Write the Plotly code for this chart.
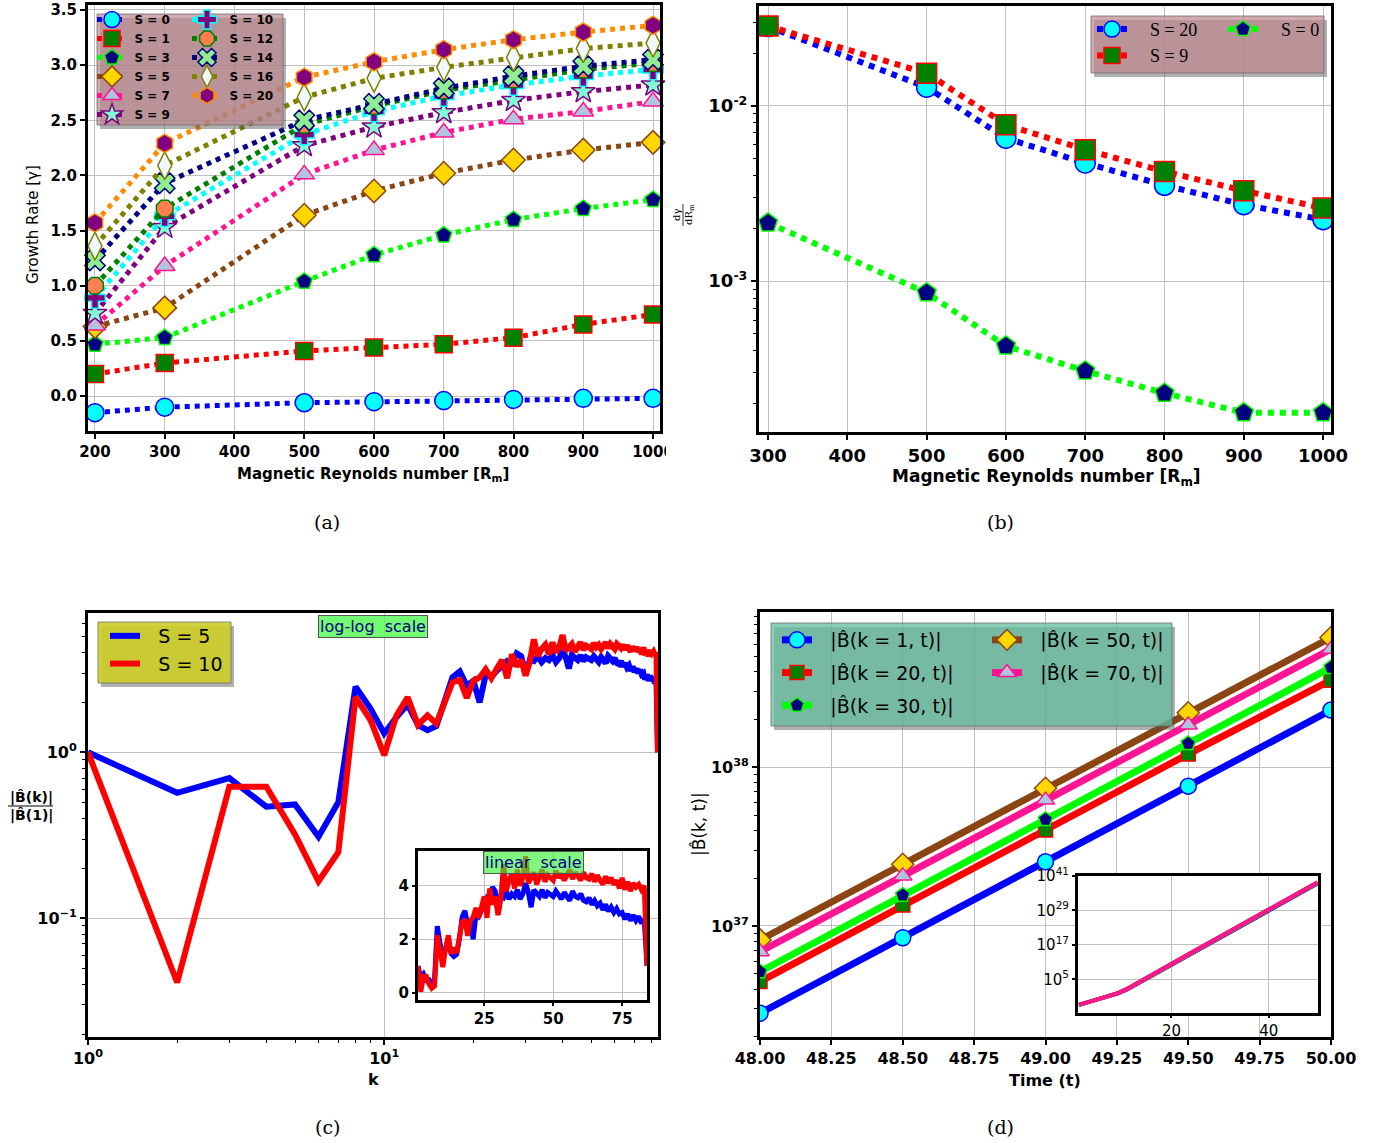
import plotly.graph_objects as go

W, H = 1380, 1143
def X(px): return px / W
def Y(py): return 1 - py / H

# ---------------- (a) growth rate vs Rm ----------------
rm_a = [200, 300, 500, 600, 700, 800, 900, 1000]
gamma_S0 = [-0.15, -0.10, -0.06, -0.05, -0.04, -0.03, -0.02, -0.02]
gamma_S1 = [0.20, 0.30, 0.41, 0.44, 0.47, 0.53, 0.65, 0.74]
gamma_S3 = [0.47, 0.53, 1.04, 1.28, 1.46, 1.60, 1.70, 1.78]
gamma_S5 = [0.63, 0.80, 1.64, 1.86, 2.02, 2.14, 2.23, 2.30]
gamma_S7 = [0.64, 1.18, 2.01, 2.23, 2.39, 2.51, 2.58, 2.67]
gamma_S9 = [0.75, 1.53, 2.27, 2.44, 2.57, 2.68, 2.76, 2.82]
gamma_S10 = [0.89, 1.63, 2.37, 2.58, 2.72, 2.82, 2.90, 2.96]
gamma_S12 = [1.00, 1.70, 2.46, 2.63, 2.77, 2.87, 2.96, 3.02]
gamma_S14 = [1.23, 1.93, 2.50, 2.65, 2.79, 2.90, 2.99, 3.05]
gamma_S16 = [1.36, 2.09, 2.71, 2.88, 2.98, 3.07, 3.15, 3.20]
gamma_S20 = [1.57, 2.29, 2.89, 3.03, 3.14, 3.23, 3.30, 3.36]
ticks_a_x = [200, 300, 400, 500, 600, 700, 800, 900, 1000]
ticks_a_y = [0.0, 0.5, 1.0, 1.5, 2.0, 2.5, 3.0, 3.5]

# ---------------- (b) d gamma / d Rm ----------------
rm_b = [300, 500, 600, 700, 800, 900, 1000]
dgam_S20 = [0.0283, 0.01276, 0.00654, 0.00472, 0.00352, 0.00273, 0.00224]
dgam_S9 = [0.0285, 0.01535, 0.00780, 0.00562, 0.00422, 0.00328, 0.00261]
dgam_S0 = [0.00215, 0.000859, 0.000427, 0.000308, 0.000230, 0.000178, 0.000178]
ticks_b_x = [300, 400, 500, 600, 700, 800, 900, 1000]

# ---------------- (c) normalised spectrum ----------------
k_vals = list(range(1, 85))
bratio_S5 = [1.00, 0.57, 0.70, 0.47, 0.485, 0.31, 0.50, 2.49, 1.83, 1.30,
             1.63, 1.94, 1.46, 1.36, 1.44, 2.00, 2.83, 3.07, 2.52, 2.70,
             2.00, 2.93, 2.85, 3.10, 3.30, 3.55, 3.45, 3.95, 3.80, 2.95,
             3.60, 3.55, 3.80, 3.50, 3.70, 3.60, 3.85, 3.50, 3.70, 4.10,
             3.75, 3.20, 3.85, 3.70, 3.60, 3.85, 3.55, 3.75, 3.70, 3.60,
             3.80, 3.65, 3.50, 3.75, 3.60, 3.45, 3.80, 3.60, 3.55, 3.70,
             3.45, 3.40, 3.55, 3.30, 3.45, 3.25, 3.35, 3.10, 3.30, 3.05,
             3.20, 3.00, 3.15, 2.95, 3.00, 2.75, 2.95, 2.70, 2.90, 2.70,
             2.85, 2.60, 2.75, 1.00]
bratio_S10 = [1.00, 0.041, 0.62, 0.62, 0.32, 0.167, 0.25, 2.15, 1.56, 0.96,
              1.67, 2.15, 1.46, 1.67, 1.49, 1.96, 2.64, 2.73, 2.13, 2.70,
              2.83, 3.17, 2.80, 3.20, 3.60, 2.80, 3.90, 3.30, 3.60, 2.90,
              3.50, 4.80, 3.80, 4.20, 4.45, 3.90, 4.60, 4.00, 4.30, 5.10,
              4.10, 4.30, 4.50, 4.05, 4.35, 4.60, 4.15, 4.40, 4.30, 4.20,
              4.55, 4.30, 4.45, 4.20, 4.40, 4.60, 4.25, 4.50, 4.35, 4.20,
              4.50, 4.30, 4.25, 4.45, 4.15, 4.40, 4.20, 4.05, 4.35, 4.10,
              4.30, 4.05, 4.20, 3.90, 4.30, 3.85, 4.15, 3.80, 4.10, 3.95,
              4.05, 3.85, 4.00, 1.00]

# ---------------- (d) mode growth in time ----------------
t_d = [48.0, 48.5, 49.0, 49.5, 50.0]
B_k1 = [2.82e36, 8.43e36, 2.54e37, 7.62e37, 2.30e38]
B_k20 = [4.46e36, 1.355e37, 4.03e37, 1.213e38, 3.55e38]
B_k30 = [5.15e36, 1.567e37, 4.70e37, 1.416e38, 4.27e38]
B_k50 = [8.17e36, 2.45e37, 7.38e37, 2.21e38, 6.59e38]
B_k70 = [6.89e36, 2.07e37, 6.22e37, 1.85e38, 5.57e38]
ticks_d_x = [48.0, 48.25, 48.5, 48.75, 49.0, 49.25, 49.5, 49.75, 50.0]
inset_t = [1, 3, 6, 9, 11, 15, 20, 25, 30, 35, 40, 45, 50]
inset_k1 = [1.3e-4, 1.3e-3, 2.5e-2, 1.3e0, 4.0e1, 2.5e5, 1.3e10, 6.3e14, 3.2e19, 1.6e24, 1.0e29, 5.0e33, 2.30e38]
inset_k20 = [1.3e-4, 1.3e-3, 2.5e-2, 1.4e0, 5.0e1, 3.5e5, 2.0e10, 9.8e14, 5.0e19, 2.5e24, 1.6e29, 7.8e33, 3.55e38]
inset_k30 = [1.3e-4, 1.3e-3, 2.6e-2, 1.5e0, 5.5e1, 4.0e5, 2.3e10, 1.15e15, 5.8e19, 2.9e24, 1.8e29, 9.2e33, 4.27e38]
inset_k50 = [1.3e-4, 1.4e-3, 2.8e-2, 1.7e0, 6.5e1, 5.5e5, 3.2e10, 1.7e15, 8.9e19, 4.5e24, 2.8e29, 1.4e34, 6.59e38]
inset_k70 = [1.3e-4, 1.4e-3, 2.7e-2, 1.6e0, 6.0e1, 4.8e5, 2.8e10, 1.5e15, 7.5e19, 3.8e24, 2.4e29, 1.2e34, 5.57e38]

fig = go.Figure()

# ---- (a) traces
a_series = [
    ("S = 0", gamma_S0, "blue", "circle", "cyan", "blue", 18, "legend"),
    ("S = 1", gamma_S1, "red", "square", "green", "red", 17, "legend"),
    ("S = 3", gamma_S3, "lime", "pentagon", "navy", "lime", 17, "legend"),
    ("S = 5", gamma_S5, "saddlebrown", "diamond", "gold", "saddlebrown", 18, "legend"),
    ("S = 7", gamma_S7, "deeppink", "triangle-up", "lightsteelblue", "deeppink", 18, "legend"),
    ("S = 9", gamma_S9, "purple", "star", "aquamarine", "purple", 18, "legend"),
    ("S = 10", gamma_S10, "cyan", "cross", "purple", "cyan", 17, "legend5"),
    ("S = 12", gamma_S12, "green", "octagon", "coral", "green", 18, "legend5"),
    ("S = 14", gamma_S14, "navy", "x", "lightgreen", "navy", 18, "legend5"),
    ("S = 16", gamma_S16, "olive", "diamond-tall", "aliceblue", "olive", 20, "legend5"),
    ("S = 20", gamma_S20, "darkorange", "hexagon", "purple", "darkorange", 18, "legend5"),
]
for name, ys, lc, sym, fc, ec, sz, lg in a_series:
    fig.add_trace(go.Scatter(
        x=rm_a, y=ys, name="\u2009" + name, mode="lines+markers", legend=lg,
        line=dict(color=lc, width=5, dash="5px,5px"),
        marker=dict(symbol=sym, size=sz, color=fc, line=dict(color=ec, width=1.5)),
        xaxis="x", yaxis="y", cliponaxis=False))

# ---- (b) traces
b_series = [
    ("S = 20", dgam_S20, "blue", "circle", "cyan", "blue", 20, "legend2"),
    ("S = 9", dgam_S9, "red", "square", "green", "red", 20, "legend2"),
    ("S = 0", dgam_S0, "lime", "pentagon", "navy", "lime", 20, "legend6"),
]
for name, ys, lc, sym, fc, ec, sz, lg in b_series:
    fig.add_trace(go.Scatter(
        x=rm_b, y=ys, name="\u2003" + name, mode="lines+markers", legend=lg,
        line=dict(color=lc, width=6, dash="6px,6px"),
        marker=dict(symbol=sym, size=sz, color=fc, line=dict(color=ec, width=1.5)),
        xaxis="x2", yaxis="y2", cliponaxis=False))

# ---- (c) traces
fig.add_trace(go.Scatter(x=k_vals, y=bratio_S5, name="\u2002\u2009S = 5", mode="lines", legend="legend3",
                         line=dict(color="blue", width=6), xaxis="x3", yaxis="y3"))
fig.add_trace(go.Scatter(x=k_vals, y=bratio_S10, name="\u2002\u2009S = 10", mode="lines", legend="legend3",
                         line=dict(color="red", width=6), xaxis="x3", yaxis="y3"))
fig.add_trace(go.Scatter(x=k_vals, y=bratio_S5, mode="lines", showlegend=False,
                         line=dict(color="blue", width=5), xaxis="x5", yaxis="y5"))
fig.add_trace(go.Scatter(x=k_vals, y=bratio_S10, mode="lines", showlegend=False,
                         line=dict(color="red", width=5), xaxis="x5", yaxis="y5"))

# ---- (d) traces
BH = "B\u0302"
d_series = [
    ("|%s(k = 1, t)|" % BH, B_k1, inset_k1, "blue", "circle", "cyan", "blue", 16, "legend4"),
    ("|%s(k = 20, t)|" % BH, B_k20, inset_k20, "red", "square", "green", "red", 14, "legend4"),
    ("|%s(k = 30, t)|" % BH, B_k30, inset_k30, "lime", "pentagon", "navy", "lime", 15, "legend4"),
    ("|%s(k = 50, t)|" % BH, B_k50, inset_k50, "saddlebrown", "diamond", "gold", "saddlebrown", 17, "legend7"),
    ("|%s(k = 70, t)|" % BH, B_k70, inset_k70, "deeppink", "triangle-up", "lightsteelblue", "deeppink", 16, "legend7"),
]
for i, (name, ys, ins, lc, sym, fc, ec, sz, lg) in enumerate(d_series):
    fig.add_trace(go.Scatter(
        x=t_d, y=ys, name="\u2002\u2009" + name, mode="lines+markers", legend=lg, legendgroup="g%d" % i,
        line=dict(color=lc, width=7),
        marker=dict(symbol=sym, size=sz, color=fc, line=dict(color=ec, width=1.5)),
        xaxis="x4", yaxis="y4"))
for name, ys, ins, lc, sym, fc, ec, sz, lg in d_series:
    fig.add_trace(go.Scatter(x=inset_t, y=ins, mode="lines", showlegend=False,
                             line=dict(color=lc, width=4), xaxis="x6", yaxis="y6"))

# ---------------- axes ----------------
def ax(size=15, weight="bold", **kw):
    d = dict(showline=True, linecolor="black", linewidth=3, mirror=True,
             ticks="outside", ticklen=5, tickwidth=1.5, tickcolor="black",
             showgrid=True, gridcolor="#c0c0c0", gridwidth=1, zeroline=False,
             automargin=False,
             tickfont=dict(family="DejaVu Sans", size=size, color="black", weight=weight))
    d.update(kw)
    return d

def minor_log(vals):
    return dict(tickvals=vals, ticks="outside", ticklen=3, tickwidth=1, tickcolor="black", showgrid=False)

minor_b = [m * 1e-4 for m in range(2, 10)] + [m * 1e-3 for m in range(2, 10)] + [m * 1e-2 for m in range(2, 10)]
minor_c_y = [m * 1e-2 for m in range(2, 10)] + [m * 1e-1 for m in range(2, 10)] + [m * 1.0 for m in range(2, 10)]
minor_c_x = [m * 1.0 for m in range(2, 10)] + [m * 10.0 for m in range(2, 9)]
minor_d = [m * 1e36 for m in range(2, 10)] + [m * 1e37 for m in range(2, 10)] + [m * 1e38 for m in range(2, 10)]

fig.update_layout(
    xaxis=ax(15, domain=[X(88), X(660)], range=[190, 1010], tickvals=ticks_a_x, anchor="y"),
    yaxis=ax(15, domain=[Y(431), Y(5)], range=[-0.316, 3.545], tickvals=ticks_a_y,
             tickformat=".1f", anchor="x"),
    xaxis2=ax(18, domain=[X(759), X(1331)], range=[288.6, 1010], tickvals=ticks_b_x, anchor="y2"),
    yaxis2=ax(18, type="log", domain=[Y(432), Y(6)], range=[-3.86, -1.431],
              tickvals=[1e-3, 1e-2], ticktext=["10<sup>-3</sup>", "10<sup>-2</sup>"],
              minor=minor_log(minor_b), anchor="x2"),
    xaxis3=ax(16, type="log", domain=[X(88), X(658)], range=[0, 1.9243],
              tickvals=[1, 10], ticktext=["10<sup>0</sup>", "10<sup>1</sup>"],
              minor=minor_log(minor_c_x), anchor="y3"),
    yaxis3=ax(16, type="log", domain=[Y(1037), Y(613)], range=[-1.716, 0.84],
              tickvals=[0.1, 1], ticktext=["10<sup>\u22121</sup>", "10<sup>0</sup>"],
              minor=minor_log(minor_c_y), anchor="x3"),
    xaxis4=ax(16, domain=[X(760), X(1331)], range=[48, 50], tickvals=ticks_d_x,
              tickformat=".2f", anchor="y4"),
    yaxis4=ax(16, type="log", domain=[Y(1037), Y(612)], range=[36.30, 38.98],
              tickvals=[1e37, 1e38], ticktext=["10<sup>37</sup>", "10<sup>38</sup>"],
              minor=minor_log(minor_d), anchor="x4"),
    xaxis5=ax(15, domain=[X(418), X(647)], range=[1, 84], tickvals=[25, 50, 75],
              ticklen=3, anchor="y5"),
    yaxis5=ax(15, domain=[Y(1000), Y(851)], range=[-0.27, 5.3], tickvals=[0, 2, 4],
              ticklen=3, anchor="x5"),
    xaxis6=ax(15, "normal", domain=[X(1078), X(1318)], range=[0.8, 50.1], tickvals=[20, 40],
              ticklen=2, anchor="y6"),
    yaxis6=ax(15, "normal", type="log", domain=[Y(1012.7), Y(876)], range=[-6.6, 41],
              tickvals=[1e5, 1e17, 1e29, 1e41], ticklen=3,
              ticktext=["10<sup>5</sup>", "10<sup>17</sup>", "10<sup>29</sup>", "10<sup>41</sup>"],
              anchor="x6"),
)

# ---------------- legends ----------------
def leg(xpx, ypx, size, family="DejaVu Sans", weight="normal", gap=None):
    d = dict(x=X(xpx), y=Y(ypx), xanchor="left", yanchor="top", orientation="v",
             bgcolor="rgba(0,0,0,0)", borderwidth=0,
             font=dict(family=family, size=size, color="black", weight=weight))
    if gap is not None:
        d["tracegroupgap"] = gap
    return d

fig.update_layout(
    legend=leg(92, 5, 12, weight="bold"),
    legend5=leg(187, 5, 12, weight="bold"),
    legend2=leg(1092, 10.8, 18, family="Liberation Serif"),
    legend6=leg(1223, 10.8, 18, family="Liberation Serif"),
    legend3=leg(105, 617, 19),
    legend4=leg(777, 621, 19, gap=5),
    legend7=leg(987, 621, 19, gap=5),
)

# ---------------- shapes: legend boxes with shadows ----------------
shapes = []
def box(x0, y0, x1, y1, fill):
    shapes.append(dict(type="rect", xref="paper", yref="paper", layer="above",
                       x0=X(x0 + 3), x1=X(x1 + 3), y0=Y(y1 + 4), y1=Y(y0 + 4),
                       fillcolor="rgba(80,80,80,0.45)", line=dict(width=0)))
    shapes.append(dict(type="rect", xref="paper", yref="paper", layer="above",
                       x0=X(x0), x1=X(x1), y0=Y(y1), y1=Y(y0),
                       fillcolor=fill, line=dict(color="rgba(110,110,110,0.8)", width=1)))

box(97, 14, 283, 125, "rgba(190,135,142,0.7)")
box(1091, 16, 1324, 73, "rgba(190,135,142,0.7)")
box(98, 622, 231, 683, "rgba(205,205,40,0.9)")
box(771, 623, 1172, 726, "rgba(100,190,160,0.75)")
# clip of the last tick label in panel (a)
shapes.append(dict(type="rect", xref="paper", yref="paper", layer="above",
                   x0=X(666), x1=X(690), y0=Y(465), y1=Y(438),
                   fillcolor="white", line=dict(width=0)))
# fraction bars for axis labels
shapes.append(dict(type="line", xref="paper", yref="paper", layer="above",
                   x0=X(683), x1=X(683), y0=Y(226), y1=Y(204), line=dict(color="black", width=0.8)))
shapes.append(dict(type="line", xref="paper", yref="paper", layer="above",
                   x0=X(8), x1=X(53), y0=Y(806), y1=Y(806), line=dict(color="black", width=1.2)))
fig.update_layout(shapes=shapes)

# ---------------- annotations ----------------
ann = []
def txt(xpx, ypx, text, size, family="DejaVu Sans", weight="normal", angle=0, color="black", **kw):
    d = dict(x=X(xpx), y=Y(ypx), xref="paper", yref="paper", text=text, showarrow=False,
             xanchor="center", yanchor="middle", textangle=angle,
             font=dict(family=family, size=size, color=color, weight=weight))
    d.update(kw)
    ann.append(d)

txt(373, 474, "Magnetic Reynolds number [R<sub>m</sub>]", 15, weight="bold")
txt(33, 225, "Growth Rate [\u03b3]", 15, angle=-90)
txt(1046, 478, "Magnetic Reynolds number [R<sub>m</sub>]", 17, weight="bold")
txt(677, 215, "d\u03b3", 10, family="DejaVu Serif", angle=-90)
txt(690, 215, "dR<sub>m</sub>", 10, family="DejaVu Serif", angle=-90)
txt(373, 1079, "k", 16, weight="bold")
txt(31, 797, "|%s(k)|" % BH, 14, weight="bold")
txt(31, 815, "|%s(1)|" % BH, 14, weight="bold")
txt(1045, 1080, "Time (t)", 16, weight="bold")
txt(699, 824, "|%s(k, t)|" % BH, 17, angle=-90)
txt(373, 626, "log-log  scale", 16, color="navy", bgcolor="rgba(80,250,80,0.8)",
    bordercolor="#555555", borderwidth=1, borderpad=1)
txt(533, 862, "linear  scale", 16, color="navy", bgcolor="rgba(60,240,60,0.65)",
    bordercolor="#555555", borderwidth=1, borderpad=1)
txt(327, 522, "(a)", 19, family="DejaVu Serif")
txt(1000, 522, "(b)", 19, family="DejaVu Serif")
txt(327, 1127, "(c)", 19, family="DejaVu Serif")
txt(1000, 1127, "(d)", 19, family="DejaVu Serif")

fig.update_layout(
    annotations=ann,
    width=W, height=H, margin=dict(l=0, r=0, t=0, b=0, autoexpand=False),
    paper_bgcolor="white", plot_bgcolor="white",
    font=dict(family="DejaVu Sans", color="black"),
)

fig.write_html("out.html")
